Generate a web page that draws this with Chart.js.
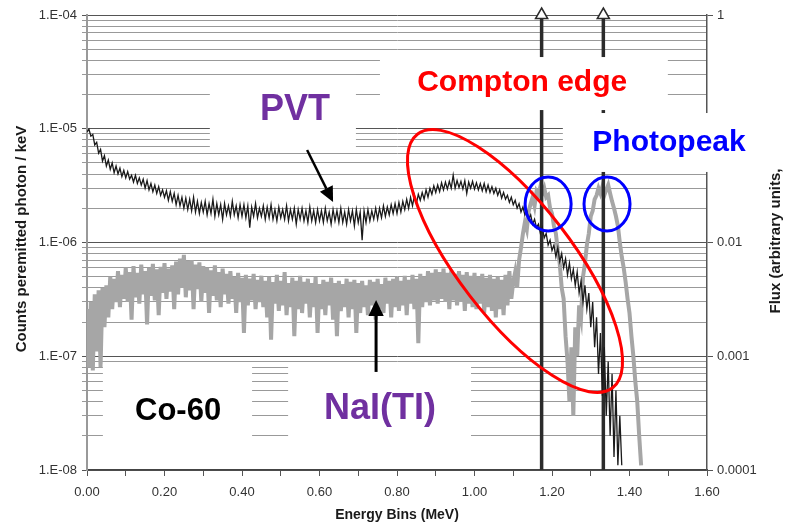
<!DOCTYPE html>
<html>
<head>
<meta charset="utf-8">
<script src="https://cdn.jsdelivr.net/npm/chart.js@4.4.1/dist/chart.umd.min.js"></script>
<style>
  html, body { margin: 0; padding: 0; background: #fff; }
  #wrap { width: 790px; height: 525px; position: relative; }
</style>
</head>
<body>
<div id="wrap"><canvas id="spectrumChart"></canvas></div>
<script>
// energy bins are 5 keV wide, first bin at 0 MeV
const BIN_WIDTH = 0.005;

// PVT response, counts per emitted photon / keV
const pvtCounts = [
  9.4e-6, 9.9e-6, 8.6e-6, 8.9e-6, 7.2e-6, 7.6e-6, 6.1e-6, 6.6e-6, 5.2e-6, 5.8e-6,
  4.7e-6, 5.3e-6, 4.4e-6, 5.0e-6, 4.1e-6, 4.7e-6, 4.0e-6, 4.5e-6, 3.8e-6, 4.3e-6,
  3.7e-6, 4.2e-6, 3.6e-6, 3.9e-6, 3.4e-6, 3.9e-6, 3.3e-6, 3.7e-6, 3.2e-6, 3.6e-6,
  3.0e-6, 3.5e-6, 2.9e-6, 3.3e-6, 2.8e-6, 3.2e-6, 2.7e-6, 3.1e-6, 2.6e-6, 2.9e-6,
  2.5e-6, 2.85e-6, 2.35e-6, 2.8e-6, 2.3e-6, 2.7e-6, 2.15e-6, 2.6e-6, 2.1e-6, 2.5e-6,
  2.0e-6, 2.45e-6, 1.95e-6, 2.4e-6, 1.9e-6, 2.5e-6, 1.85e-6, 2.3e-6, 1.8e-6, 2.25e-6,
  1.85e-6, 2.3e-6, 1.75e-6, 2.2e-6, 1.8e-6, 2.4e-6, 1.7e-6, 2.2e-6, 1.75e-6, 2.15e-6,
  1.6e-6, 2.2e-6, 1.75e-6, 2.1e-6, 1.7e-6, 2.3e-6, 1.75e-6, 2.1e-6, 1.65e-6, 2.15e-6,
  1.7e-6, 2.15e-6, 1.65e-6, 2.1e-6, 1.35e-6, 2.05e-6, 1.7e-6, 2.2e-6, 1.65e-6, 2.0e-6,
  1.7e-6, 2.1e-6, 1.6e-6, 2.05e-6, 1.65e-6, 2.15e-6, 1.6e-6, 1.95e-6, 1.55e-6, 2.05e-6,
  1.65e-6, 1.95e-6, 1.6e-6, 2.1e-6, 1.55e-6, 1.95e-6, 1.6e-6, 2.0e-6, 1.45e-6, 1.95e-6,
  1.6e-6, 2.0e-6, 1.55e-6, 1.9e-6, 1.5e-6, 2.05e-6, 1.55e-6, 1.9e-6, 1.5e-6, 1.95e-6,
  1.55e-6, 1.9e-6, 1.5e-6, 2.0e-6, 1.55e-6, 1.85e-6, 1.45e-6, 1.95e-6, 1.55e-6, 1.9e-6,
  1.5e-6, 2.0e-6, 1.5e-6, 1.85e-6, 1.45e-6, 1.95e-6, 1.55e-6, 1.9e-6, 1.4e-6, 1.95e-6,
  1.5e-6, 1.85e-6, 1.05e-6, 1.9e-6, 1.5e-6, 1.95e-6, 1.55e-6, 1.9e-6, 1.6e-6, 2.0e-6,
  1.6e-6, 2.0e-6, 1.65e-6, 2.1e-6, 1.7e-6, 2.05e-6, 1.75e-6, 2.15e-6, 1.8e-6, 2.2e-6,
  1.8e-6, 2.25e-6, 1.85e-6, 2.3e-6, 1.95e-6, 2.4e-6, 2.0e-6, 2.5e-6, 2.1e-6, 2.6e-6,
  2.2e-6, 2.65e-6, 2.35e-6, 2.75e-6, 2.4e-6, 2.9e-6, 2.5e-6, 3.0e-6, 2.65e-6, 3.15e-6,
  2.75e-6, 3.2e-6, 2.8e-6, 3.35e-6, 2.9e-6, 3.4e-6, 2.95e-6, 3.45e-6, 3.0e-6, 3.9e-6,
  3.0e-6, 3.5e-6, 3.05e-6, 3.45e-6, 2.95e-6, 3.5e-6, 2.7e-6, 3.4e-6, 3.0e-6, 3.45e-6,
  2.95e-6, 3.35e-6, 2.9e-6, 3.3e-6, 2.85e-6, 3.3e-6, 2.8e-6, 3.2e-6, 2.75e-6, 3.1e-6,
  2.7e-6, 3.0e-6, 2.6e-6, 2.9e-6, 2.45e-6, 2.75e-6, 2.4e-6, 2.6e-6, 2.25e-6, 2.5e-6,
  2.15e-6, 2.35e-6, 2.0e-6, 2.2e-6, 1.85e-6, 2.05e-6, 1.75e-6, 1.9e-6, 1.6e-6, 1.75e-6,
  1.45e-6, 1.6e-6, 1.35e-6, 1.45e-6, 1.2e-6, 1.35e-6, 1.1e-6, 1.2e-6, 9.5e-7, 1.05e-6,
  8.5e-7, 9.5e-7, 7.5e-7, 9.0e-7, 6.8e-7, 8.0e-7, 6.0e-7, 7.2e-7, 5.2e-7, 6.6e-7,
  4.8e-7, 5.8e-7, 4.2e-7, 5.5e-7, 3.6e-7, 4.6e-7, 3.0e-7, 4.2e-7, 2.6e-7, 3.6e-7,
  1.8e-7, 3.0e-7, 1.2e-7, 2.2e-7, 7.0e-8, 1.6e-7, 4.5e-8, 1.2e-7, 3.0e-8, 9.0e-8,
  2.0e-8, 7.0e-8, 1.3e-8, 5.0e-8, 1.1e-8, 3.0e-8, 1.1e-8
];

// NaI(Tl) response, same bins
const naiCounts = [
  2.6e-7, 8.0e-8, 3.0e-7, 7.5e-8, 3.5e-7, 1.1e-7, 3.8e-7, 8.0e-8, 4.0e-7, 1.8e-7,
  4.2e-7, 2.2e-7, 5.0e-7, 2.6e-7, 4.8e-7, 3.0e-7, 5.6e-7, 2.7e-7, 5.2e-7, 3.2e-7,
  6.0e-7, 3.0e-7, 5.5e-7, 2.1e-7, 6.2e-7, 3.3e-7, 5.4e-7, 2.9e-7, 6.4e-7, 3.5e-7,
  5.6e-7, 1.9e-7, 6.0e-7, 3.4e-7, 6.5e-7, 3.1e-7, 5.8e-7, 2.3e-7, 6.1e-7, 3.6e-7,
  6.6e-7, 3.2e-7, 5.9e-7, 3.7e-7, 6.3e-7, 2.6e-7, 6.8e-7, 3.5e-7, 7.2e-7, 4.0e-7,
  7.8e-7, 3.3e-7, 6.9e-7, 3.8e-7, 7.0e-7, 2.6e-7, 6.4e-7, 3.9e-7, 6.7e-7, 3.0e-7,
  6.2e-7, 3.6e-7, 6.0e-7, 2.4e-7, 5.7e-7, 3.4e-7, 6.3e-7, 3.1e-7, 5.5e-7, 2.7e-7,
  5.9e-7, 3.5e-7, 5.3e-7, 2.9e-7, 5.6e-7, 3.2e-7, 5.0e-7, 2.4e-7, 5.4e-7, 3.0e-7,
  4.9e-7, 1.6e-7, 5.2e-7, 2.8e-7, 4.8e-7, 3.1e-7, 5.3e-7, 2.6e-7, 4.7e-7, 3.0e-7,
  5.1e-7, 2.7e-7, 4.6e-7, 2.2e-7, 5.0e-7, 1.4e-7, 4.5e-7, 2.9e-7, 5.2e-7, 2.5e-7,
  4.6e-7, 2.8e-7, 5.5e-7, 2.3e-7, 4.4e-7, 2.7e-7, 4.9e-7, 1.5e-7, 4.6e-7, 2.6e-7,
  5.1e-7, 2.4e-7, 4.5e-7, 2.9e-7, 4.8e-7, 2.2e-7, 4.4e-7, 2.7e-7, 5.0e-7, 1.6e-7,
  4.3e-7, 2.6e-7, 4.7e-7, 2.3e-7, 4.5e-7, 2.8e-7, 4.9e-7, 2.1e-7, 4.4e-7, 1.5e-7,
  4.6e-7, 2.5e-7, 4.3e-7, 2.7e-7, 4.8e-7, 2.2e-7, 4.5e-7, 2.6e-7, 4.7e-7, 1.6e-7,
  4.4e-7, 2.4e-7, 4.6e-7, 2.7e-7, 4.2e-7, 2.3e-7, 4.7e-7, 2.8e-7, 4.5e-7, 2.1e-7,
  4.8e-7, 2.6e-7, 4.3e-7, 2.4e-7, 4.9e-7, 2.9e-7, 4.6e-7, 2.2e-7, 4.8e-7, 2.7e-7,
  5.0e-7, 2.5e-7, 4.6e-7, 2.8e-7, 5.1e-7, 2.3e-7, 4.7e-7, 2.9e-7, 5.2e-7, 2.6e-7,
  4.8e-7, 1.3e-7, 5.3e-7, 2.7e-7, 5.0e-7, 3.0e-7, 5.6e-7, 2.8e-7, 5.4e-7, 3.1e-7,
  5.8e-7, 2.9e-7, 5.5e-7, 3.2e-7, 5.9e-7, 3.0e-7, 5.4e-7, 2.6e-7, 5.7e-7, 3.1e-7,
  5.3e-7, 2.8e-7, 5.6e-7, 3.0e-7, 5.2e-7, 2.5e-7, 5.5e-7, 2.9e-7, 5.1e-7, 2.7e-7,
  5.4e-7, 2.6e-7, 5.0e-7, 2.9e-7, 5.3e-7, 2.4e-7, 4.9e-7, 2.7e-7, 5.2e-7, 2.5e-7,
  4.8e-7, 2.2e-7, 5.0e-7, 2.6e-7, 4.7e-7, 2.3e-7, 5.2e-7, 2.8e-7, 5.6e-7, 3.2e-7,
  4.5e-7, 5.5e-7, 4.0e-7, 7.0e-7, 9.0e-7, 1.2e-6, 1.5e-6, 1.3e-6, 1.9e-6, 2.2e-6,
  2.5e-6, 2.1e-6, 2.8e-6, 2.6e-6, 3.1e-6, 2.7e-6, 3.0e-6, 2.5e-6, 2.6e-6, 2.0e-6,
  1.8e-6, 1.4e-6, 1.2e-6, 8.5e-7, 6.5e-7, 4.0e-7, 3.2e-7, 1.5e-7, 9.0e-8, 4.0e-8,
  1.2e-7, 3.0e-8, 1.8e-7, 1.0e-7, 2.8e-7, 2.2e-7, 5.0e-7, 6.5e-7, 9.5e-7, 1.2e-6,
  1.7e-6, 1.9e-6, 2.4e-6, 2.6e-6, 3.0e-6, 2.7e-6, 3.1e-6, 2.6e-6, 2.9e-6, 3.2e-6,
  2.7e-6, 2.3e-6, 2.0e-6, 1.7e-6, 1.4e-6, 1.0e-6, 7.5e-7, 6.0e-7, 4.5e-7, 3.2e-7,
  2.4e-7, 1.5e-7, 1.0e-7, 6.0e-8, 4.0e-8, 2.0e-8, 1.1e-8
];

// Co-60 gamma lines (MeV)
const gammaLines = [1.1732, 1.3325];

// axis ranges and tick values
const ENERGY_MIN = 0, ENERGY_MAX = 1.6;
const COUNTS_MIN = 1e-8, COUNTS_MAX = 1e-4;
const FLUX_MIN = 1e-4, FLUX_MAX = 1;
const countDecades = [-8, -7, -6, -5];
const gridMantissas = [1, 2, 3, 4, 5, 6, 7, 8, 9];
const fluxTicks = [0.0001, 0.001, 0.01, 0.1, 1];

const countGrid = [];
countDecades.forEach(d => gridMantissas.forEach(m => countGrid.push(Number((m + 'e' + d)))));
countGrid.push(COUNTS_MAX);

const isDecade = v => Math.abs(Math.log10(v) - Math.round(Math.log10(v))) < 1e-6;
const toPoints = arr => arr.map((v, i) => ({ x: Number((i * BIN_WIDTH).toFixed(3)), y: v }));

// overlay labels, positioned in data units (energy, counts)
const labelBoxes = [
  { text: 'PVT', color: '#7030a0', font: 'bold 36px "Liberation Sans", Arial', box: [0.317, 2.97e-5, 0.694, 6.37e-6], at: [0.537, 1.46e-5] },
  { text: 'Compton edge', color: '#ff0000', font: 'bold 30px "Liberation Sans", Arial', box: [0.756, 4.27e-5, 1.499, 1.46e-5], at: [1.123, 2.52e-5] },
  { text: 'Photopeak', color: '#0000ff', font: 'bold 30px "Liberation Sans", Arial', box: [1.228, 1.375e-5, 1.775, 4.17e-6], at: [1.502, 7.5e-6] },
  { text: 'Co-60', color: '#000000', font: 'bold 31px "Liberation Sans", Arial', box: [0.041, 8.55e-8, 0.426, 1.04e-8], at: [0.235, 3.24e-8] },
  { text: 'NaI(TI)', color: '#7030a0', font: 'bold 36px "Liberation Sans", Arial', box: [0.519, 8.55e-8, 0.991, 1.04e-8], at: [0.756, 3.44e-8] }
];
const pointerArrows = [
  { from: [0.568, 6.5e-6], to: [0.635, 2.27e-6], width: 2.5, head: 15 },
  { from: [0.746, 7.28e-8], to: [0.746, 3.13e-7], width: 3, head: 16 }
];
const rings = [
  { at: [1.1045, 6.87e-7], rx: 160, ry: 57, rot: 52.4, color: '#ff0000' },
  { at: [1.19, 2.18e-6], rx: 23, ry: 27, rot: 0, color: '#0000ff' },
  { at: [1.342, 2.18e-6], rx: 23, ry: 27, rot: 0, color: '#0000ff' }
];

function drawArrow(ctx, x1, y1, x2, y2, head) {
  const a = Math.atan2(y2 - y1, x2 - x1);
  const bx = x2 - Math.cos(a) * head, by = y2 - Math.sin(a) * head;
  const w = head * 0.48;
  ctx.beginPath();
  ctx.moveTo(x1, y1);
  ctx.lineTo(bx, by);
  ctx.stroke();
  ctx.beginPath();
  ctx.moveTo(x2, y2);
  ctx.lineTo(bx + Math.sin(a) * w, by - Math.cos(a) * w);
  ctx.lineTo(bx - Math.sin(a) * w, by + Math.cos(a) * w);
  ctx.closePath();
  ctx.fill();
}

const overlayPlugin = {
  id: 'overlay',
  afterDraw(chart) {
    const { ctx } = chart;
    const xs = chart.scales.x, ys = chart.scales.y;
    const px = v => xs.getPixelForValue(v);
    const py = v => ys.getPixelForValue(v);
    ctx.save();

    ctx.fillStyle = '#ffffff';
    labelBoxes.forEach(b => {
      const x0 = px(b.box[0]), x1 = px(b.box[2]), y0 = py(b.box[1]), y1 = py(b.box[3]);
      ctx.fillRect(x0, y0, x1 - x0, y1 - y0);
    });
    ctx.textAlign = 'center';
    ctx.textBaseline = 'middle';
    labelBoxes.forEach(b => {
      ctx.font = b.font;
      ctx.fillStyle = b.color;
      ctx.fillText(b.text, px(b.at[0]), py(b.at[1]));
    });

    ctx.strokeStyle = '#000';
    ctx.fillStyle = '#000';
    pointerArrows.forEach(a => {
      ctx.lineWidth = a.width;
      drawArrow(ctx, px(a.from[0]), py(a.from[1]), px(a.to[0]), py(a.to[1]), a.head);
    });

    ctx.lineWidth = 3;
    rings.forEach(r => {
      ctx.strokeStyle = r.color;
      ctx.beginPath();
      ctx.ellipse(px(r.at[0]), py(r.at[1]), r.rx, r.ry, r.rot * Math.PI / 180, 0, Math.PI * 2);
      ctx.stroke();
    });

    // axis titles
    ctx.fillStyle = '#1a1a1a';
    ctx.font = 'bold 15px "Liberation Sans", Arial';
    ctx.save();
    ctx.translate(22, 239);
    ctx.rotate(-Math.PI / 2);
    ctx.fillText('Counts peremitted photon / keV', 0, 0);
    ctx.restore();
    ctx.save();
    ctx.translate(776, 241);
    ctx.rotate(-Math.PI / 2);
    ctx.fillText('Flux (arbitrary units,', 0, 0);
    ctx.restore();
    ctx.font = 'bold 14px "Liberation Sans", Arial';
    ctx.fillText('Energy Bins (MeV)', (chart.chartArea.left + chart.chartArea.right) / 2, 515);

    ctx.restore();
  }
};

Chart.defaults.font.family = '"Liberation Sans", Arial, sans-serif';
Chart.defaults.color = '#333';

const datasets = [
  {
    label: 'PVT',
    data: toPoints(pvtCounts),
    borderColor: '#1a1a1a',
    borderWidth: 1.3,
    pointRadius: 0,
    order: 1
  },
  ...gammaLines.map(e => ({
    label: 'Co-60 ' + e + ' MeV',
    data: [{ x: e, y: COUNTS_MIN }, { x: e, y: COUNTS_MAX }],
    borderColor: '#2b2b2b',
    borderWidth: 3.5,
    pointRadius: [0, 7],
    pointStyle: 'triangle',
    pointBackgroundColor: '#ffffff',
    pointBorderColor: '#2b2b2b',
    pointBorderWidth: 1.5,
    clip: false,
    order: 2
  })),
  {
    label: 'NaI(Tl)',
    data: toPoints(naiCounts),
    borderColor: '#a6a6a6',
    borderWidth: 4,
    pointRadius: 0,
    order: 3
  }
];

new Chart(document.getElementById('spectrumChart'), {
  type: 'line',
  data: { datasets },
  options: {
    responsive: true,
    maintainAspectRatio: false,
    animation: false,
    layout: { padding: { top: 15 } },
    plugins: { legend: { display: false }, tooltip: { enabled: false } },
    scales: {
      x: {
        type: 'linear',
        min: ENERGY_MIN,
        max: ENERGY_MAX,
        afterFit: s => { s.height = 55; },
        grid: { drawOnChartArea: false, tickLength: 6, color: '#555' },
        border: { color: '#444', width: 1.5 },
        ticks: {
          stepSize: 0.1,
          autoSkip: false,
          maxRotation: 0,
          padding: 9,
          font: { size: 13 },
          callback: v => (Math.round(v * 10) % 2 === 0 ? v.toFixed(2) : '')
        }
      },
      y: {
        type: 'logarithmic',
        position: 'left',
        min: COUNTS_MIN,
        max: COUNTS_MAX,
        afterFit: s => { s.width = 87; },
        afterBuildTicks: s => { s.ticks = countGrid.map(v => ({ value: v })); },
        grid: {
          color: c => (c.tick && isDecade(c.tick.value) ? '#555' : '#999'),
          lineWidth: 1,
          tickLength: 5
        },
        border: { color: '#999', width: 2 },
        ticks: {
          autoSkip: false,
          padding: 5,
          font: { size: 13 },
          callback: v => (isDecade(v) ? '1.E-0' + Math.round(-Math.log10(v)) : '')
        }
      },
      flux: {
        type: 'logarithmic',
        position: 'right',
        min: FLUX_MIN,
        max: FLUX_MAX,
        afterFit: s => { s.width = 83; },
        afterBuildTicks: s => { s.ticks = fluxTicks.map(v => ({ value: v })); },
        grid: { drawOnChartArea: false, tickLength: 6, color: '#555' },
        border: { color: '#555', width: 1.5 },
        ticks: {
          autoSkip: false,
          padding: 4,
          font: { size: 13 },
          callback: v => String(v)
        }
      }
    }
  },
  plugins: [overlayPlugin]
});
</script>
</body>
</html>
